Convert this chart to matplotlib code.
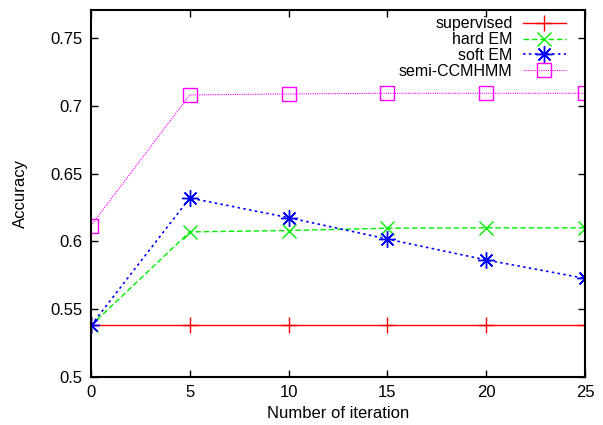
import matplotlib
matplotlib.use("Agg")
import matplotlib.pyplot as plt

iterations = [0, 5, 10, 15, 20, 25]
supervised = [0.538, 0.538, 0.538, 0.538, 0.538, 0.538]
hard_em = [0.538, 0.607, 0.608, 0.6097, 0.610, 0.610]
soft_em = [0.538, 0.632, 0.6175, 0.6017, 0.5863, 0.5727]
semi_ccmhmm = [0.6116, 0.708, 0.7087, 0.7092, 0.7092, 0.7092]

xticks = [0, 5, 10, 15, 20, 25]
yticks = [0.5, 0.55, 0.6, 0.65, 0.7, 0.75]
ytick_labels = ["0.5", "0.55", "0.6", "0.65", "0.7", "0.75"]

plt.rcParams['font.family'] = ['Liberation Sans', 'DejaVu Sans']

fig = plt.figure(figsize=(6.03, 4.25), dpi=100)
ax = fig.add_axes([91/603, 1-377/425, (585-91)/603, (377-10)/425])

ax.plot(iterations, supervised, color='#ff0000', linestyle='-', linewidth=1,
        marker='+', markersize=11, markeredgewidth=1, label='supervised')
ax.plot(iterations, hard_em, color='#00ee00', linestyle=(0, (4, 2)), linewidth=1,
        marker='x', markersize=10, markeredgewidth=1, label='hard EM')
ax.plot(iterations, soft_em, color='#0000ff', linestyle=(0, (1.5, 2)), linewidth=1.2,
        marker=(8, 2, 0), markersize=12, markeredgewidth=1, label='soft EM')
ax.plot(iterations, semi_ccmhmm, color='#ff00ff', linestyle=(0, (1, 1)), linewidth=0.8,
        marker='s', markersize=10, markerfacecolor='none', markeredgewidth=1,
        label='semi-CCMHMM')

ax.set_xlim(0, 25)
ax.set_ylim(0.5, 0.7706)
ax.set_xticks(xticks)
ax.set_yticks(yticks)
ax.set_yticklabels(ytick_labels)
ax.tick_params(direction='in', top=True, right=True, length=5, width=1,
               labelsize=12, pad=6)
for s in ax.spines.values():
    s.set_linewidth(1.5)

ax.set_xlabel('Number of iteration', fontsize=12)
ax.set_ylabel('Accuracy', fontsize=12, labelpad=16)

leg = ax.legend(loc='upper right', bbox_to_anchor=(0.9745, 1.0), frameon=False,
                markerfirst=False, fontsize=11.5,
                handlelength=2.7, handletextpad=0.63, labelspacing=0.05,
                borderaxespad=0.0)
vp = leg._legend_box._children[-1]._children[0]
vp.align = "right"

fig.savefig('out.png', dpi=100)
